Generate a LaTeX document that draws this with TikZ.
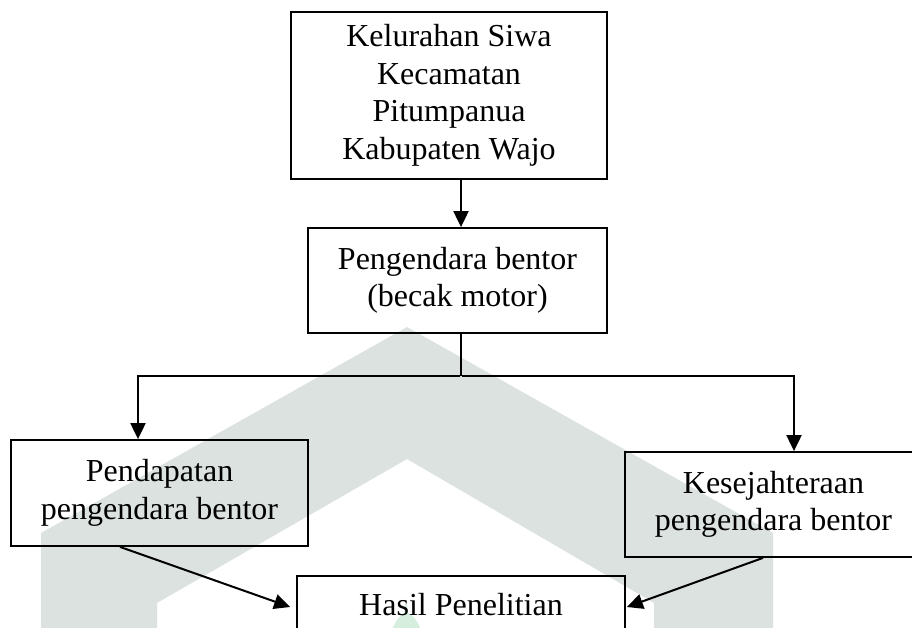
\documentclass[tikz,border=0pt]{standalone}
\usepackage{fontspec}
\setmainfont{Liberation Serif}
\usetikzlibrary{arrows.meta,calc}
\definecolor{wmgray}{RGB}{219,226,223}
\definecolor{wmgreen}{RGB}{214,238,222}
\begin{document}
\begin{tikzpicture}[x=1pt,y=-1pt,
  box/.style={draw=black,line width=1.8pt,align=center,inner sep=2pt,
    font=\fontsize{32}{37.5}\selectfont},
  arr/.style={line width=2pt,-{Triangle[width=15pt,length=16pt]}},
  conn/.style={line width=2pt}]
\useasboundingbox (0,0) rectangle (912,628);
\clip (0,0) rectangle (912,628);
% watermark
\fill[wmgray] (41,640) -- (41,533) -- (407,327) -- (773,533) -- (773,640)
  -- (654,640) -- (654,603) -- (407,459) -- (157,603) -- (157,640) -- cycle;
\fill[wmgreen] (405,604) -- (407,604) -- (408,613)
  .. controls (414,616) and (418,622) .. (421,630) -- (392,630)
  .. controls (395,622) and (399,616) .. (404,613) -- cycle;
% boxes
\node[box,minimum width=316pt,minimum height=167pt] (top) at (449,95.5)
  {Kelurahan Siwa\\Kecamatan\\Pitumpanua\\Kabupaten Wajo};
\node[box,minimum width=299pt,minimum height=105pt] (mid) at (457.5,280.5)
  {Pengendara bentor\\(becak motor)};
\node[box,minimum width=297pt,minimum height=106pt] (pend) at (159.5,493)
  {Pendapatan\\pengendara bentor};
\node[box,minimum width=297pt,minimum height=105pt] (kes) at (773.5,504.5)
  {Kesejahteraan\\pengendara bentor};
\node[box,anchor=north,minimum width=328pt,inner ysep=18pt,text height=22pt,
  text depth=60pt] (hasil) at (461,575) {Hasil Penelitian};
% connectors
\draw[arr] ([xshift=12pt]top.south) -- ([xshift=12pt]top.south |- mid.north);
\coordinate (split) at (461,376);
\draw[conn] ([xshift=3.5pt]mid.south) -- (split);
\draw[arr] ([xshift=-1pt]split) -| ([xshift=-21.5pt]pend.north);
\draw[arr] ([xshift=1pt]split) -| ([xshift=20.5pt]kes.north);
\draw[arr] ([xshift=-39.5pt]pend.south) -- ([xshift=-6pt,yshift=-32pt]hasil.north west);
\draw[arr] ([xshift=-10.5pt]kes.south) -- ([xshift=1pt,yshift=-32pt]hasil.north east);
\end{tikzpicture}
\end{document}
